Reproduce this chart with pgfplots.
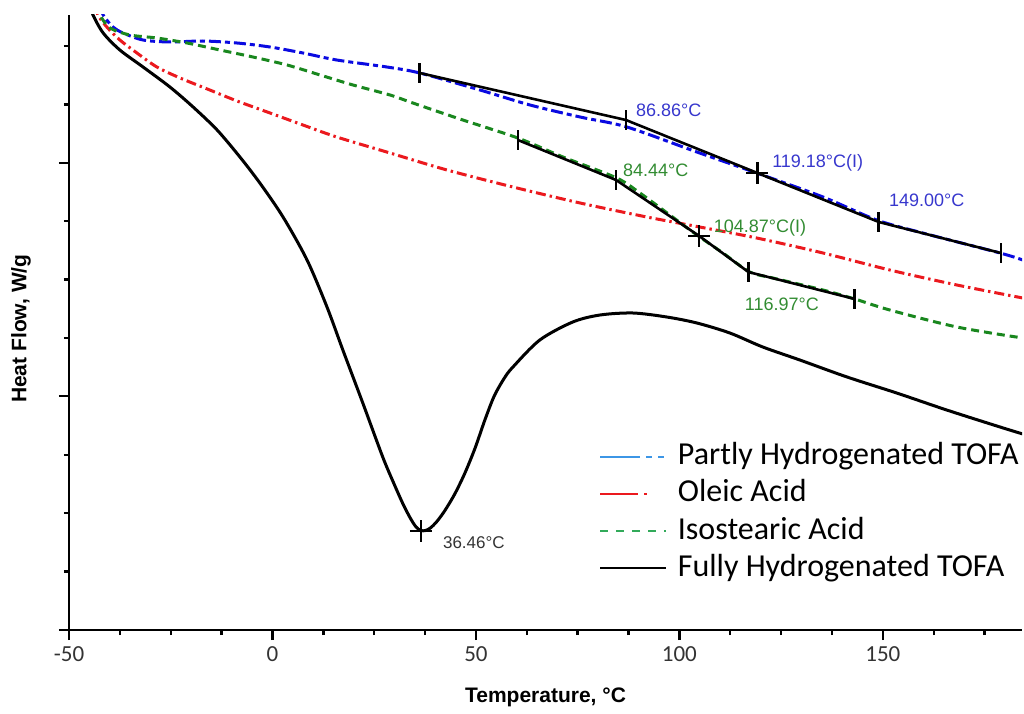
\documentclass[border=0pt]{standalone}
\usepackage{pgfplots}
\pgfplotsset{compat=1.18}
\usepackage{fontspec}
\setmainfont{Carlito}
\newfontfamily\arialf{Liberation Sans}
\definecolor{cblue}{RGB}{10,10,225}
\definecolor{lblue}{RGB}{60,150,230}
\definecolor{cred}{RGB}{235,25,30}
\definecolor{cgreen}{RGB}{25,135,30}
\definecolor{lgreen}{RGB}{50,170,90}
\definecolor{tblue}{RGB}{55,55,205}
\definecolor{tgreen}{RGB}{50,140,50}

\begin{document}
\begin{tikzpicture}
\begin{axis}[
    scale only axis,
    width=476.5pt, height=307.5pt,
    xmin=-50, xmax=184.2, ymin=0, ymax=615,
    axis x line*=bottom, axis y line*=left,
    axis line style={line width=1.3pt},
    xtick={-50,0,50,100,150},
    minor xtick={-37.5,-25,-12.5,12.5,25,37.5,62.5,75,87.5,112.5,125,137.5,162.5,175},
    ytick={0,234,467}, yticklabels={},
    minor ytick={58.4,116.8,175.2,292,350.4,408.8,525.6,584},
    tick align=outside,
    major tick length=5pt, minor tick length=2.5pt,
    every tick/.style={black, line width=1.2pt},
    /pgf/number format/assume math mode=true,
    xticklabel style={font=\fontsize{11.5}{13}\selectfont, text=black!80},
    xlabel={Temperature, °C}, ylabel={Heat Flow, W/g},
    label style={font=\arialf\bfseries\fontsize{10.5}{12}\selectfont},
    xlabel style={at={([yshift=-33.5pt]rel axis cs:0.5,0)}, anchor=center},
    ylabel style={at={([xshift=-24pt]rel axis cs:0,0.49)}, anchor=center},
    legend style={draw=none, fill=none, at={(rel axis cs:1,0.312)}, anchor=north east,
        inner sep=0pt, row sep=0.65pt, column sep=4pt,
        font=\fontsize{16}{18}\selectfont,
        nodes={inner sep=1.5pt, text height=11.5pt, text depth=3.5pt}},
    legend cell align=left,
    legend image code/.code={\draw[#1] (0cm,0cm) -- (1.15cm,0cm);},
]
\coordinate (sw) at (rel axis cs:0,0);
\coordinate (ne) at (rel axis cs:1,1);

% Partly Hydrogenated TOFA
\addplot[cblue, line width=1.5pt, smooth, dash pattern=on 6pt off 2pt on 2.5pt off 2pt,
    legend image post style={lblue, line width=1pt, dash pattern=on 20pt off 3pt on 3pt off 3pt on 3pt off 3pt}]
coordinates {(-42.3,625) (-41.6,615) (-39.2,603) (-36.7,597) (-31.8,590) (-25.2,588) (-17.1,589)
 (-8.7,587) (-0.6,583) (7.5,577) (15.8,570) (28.1,563) (36.2,557) (51.0,540) (63.3,525)
 (75.6,513) (87.1,503) (104.3,478) (119.0,457) (135.3,433) (148.5,410) (159.8,397)
 (178.8,377) (184.4,370)};
\addlegendentry{Partly Hydrogenated TOFA}

% Oleic Acid
\addplot[cred, line width=1.5pt, smooth, dash pattern=on 5pt off 2pt on 1.2pt off 2pt,
    legend image post style={line width=1pt, dash pattern=on 19pt off 3pt on 1.5pt off 10pt}]
coordinates {(-43.5,625) (-42.9,615) (-40.7,603) (-37.5,590) (-33.3,577) (-28.4,563) (-22.7,552)
 (-15.4,540) (-8.7,529) (-0.6,517) (7.5,505) (15.8,493) (28.9,477) (42.9,460) (59.1,443)
 (75.6,427) (92.0,413) (105.0,403) (119.0,392) (135.3,377) (151.7,360) (168.2,345) (184.4,332)};
\addlegendentry{Oleic Acid}

% Isostearic Acid
\addplot[cgreen, line width=1.5pt, smooth, dash pattern=on 4pt off 2.5pt,
    legend image post style={lgreen, line width=1pt, dash pattern=on 4pt off 4pt}]
coordinates {(-43.0,625) (-42.4,615) (-39.9,602) (-35.0,595) (-28.4,592) (-21.0,587) (-12.9,580)
 (-4.8,573) (3.6,565) (11.7,555) (19.8,545) (28.9,535) (34.5,527) (46.8,510) (60.3,492)
 (71.4,473) (84.6,452) (90.3,437) (96.0,420) (102.6,400) (105.0,393) (110.7,377) (117.3,358)
 (123.0,352) (135.3,340) (143.1,331) (151.7,320) (168.2,303) (184.4,292)};
\addlegendentry{Isostearic Acid}

% Fully Hydrogenated TOFA
\addplot[black, line width=1.5pt, smooth, legend image post style={line width=1pt}]
coordinates {(-44.8,625) (-44.1,615) (-41.6,597) (-37.5,580) (-31.8,563) (-25.2,543) (-19.5,523)
 (-13.6,500) (-8.0,473) (-3.1,447) (2.6,413) (8.5,370) (13.4,323) (17.3,280) (22.2,227)
 (27.1,173) (30.0,145) (32.2,125) (34.0,111) (35.3,103) (36.46,99.5) (37.6,99.5) (38.8,102)
 (40.3,108) (42.3,119) (44.8,136) (47.3,157) (49.8,182) (52.2,210) (54.5,234) (57.0,252) (59.1,263)
 (65.7,290) (73.8,308) (80.5,315) (88.6,317) (96.9,313) (104.3,307)
 (112.4,297) (120.5,283) (129.6,270) (141.2,253) (153.4,237) (165.7,220) (178.8,203) (184.4,196)};
\addlegendentry{Fully Hydrogenated TOFA}

% tangent constructions
\addplot[forget plot, black, line width=1.3pt]
coordinates {(36.2,557) (86.86,510) (119.18,457) (149.0,408) (179.0,377)};
\addplot[forget plot, black, line width=1.3pt]
coordinates {(60.3,490) (84.44,450) (104.87,394) (116.97,358) (143.1,331)};
\addplot[forget plot, only marks, mark=|, mark size=5pt, mark options={black, line width=1.3pt}]
coordinates {(36.2,557) (86.86,510) (149.0,408) (179.0,377)
 (60.3,490) (84.44,450) (116.97,358) (143.1,331)};
\addplot[forget plot, only marks, mark=+, mark size=5.5pt, mark options={black, line width=1.3pt}]
coordinates {(119.18,457) (104.87,394) (36.46,99)};

\begin{scope}[font=\arialf\fontsize{9}{10}\selectfont]
\node[text=tblue] at (axis cs:97.4,520) {86.86°C};
\node[text=tblue] at (axis cs:134.0,467) {119.18°C(I)};
\node[text=tblue] at (axis cs:160.8,430) {149.00°C};
\node[text=tgreen] at (axis cs:94.2,460) {84.44°C};
\node[text=tgreen] at (axis cs:119.8,402) {104.87°C(I)};
\node[text=tgreen] at (axis cs:125.2,326) {116.97°C};
\node[text=black!80, font=\arialf\fontsize{8.5}{10}\selectfont] at (axis cs:49.5,87) {36.46°C};
\end{scope}
\end{axis}
\path ([xshift=-34.5pt,yshift=-40.5pt]sw) rectangle ([xshift=1pt,yshift=7.5pt]ne);
\end{tikzpicture}
\end{document}
